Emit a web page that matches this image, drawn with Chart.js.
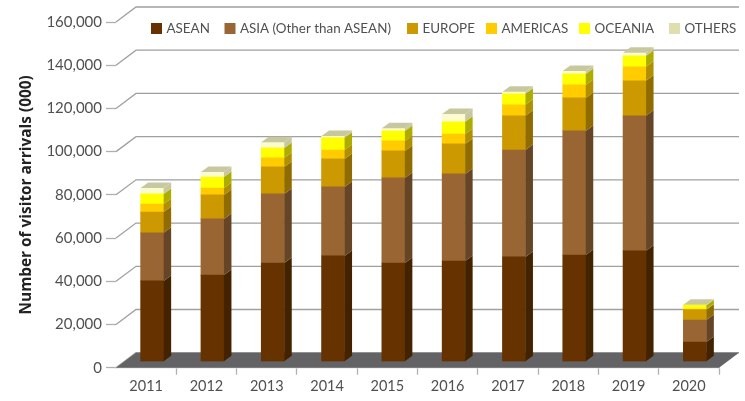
<!DOCTYPE html>
<html>
<head>
<meta charset="utf-8">
<style>
    html, body { margin: 0; padding: 0; background: #fff; }
    #chart { display: block; }
</style>
<script src="https://cdn.jsdelivr.net/npm/chart.js@4"></script>
</head>
<body>
<canvas id="chart" width="745" height="401"></canvas>
<script>
const years = ['2011', '2012', '2013', '2014', '2015', '2016', '2017', '2018', '2019', '2020'];
const asean = [37400, 40100, 45700, 48950, 45700, 46600, 48500, 49400, 51300, 9100];
const asia = [22300, 26000, 31950, 31950, 39350, 40300, 49500, 57400, 62500, 10200];
const europe = [9600, 11100, 12500, 12950, 12500, 13900, 15800, 15300, 16200, 4800];
const americas = [3700, 3200, 4150, 4150, 4650, 4600, 5100, 6000, 6500, 200];
const oceania = [4650, 5100, 4650, 5700, 4600, 5600, 5100, 5100, 5100, 1800];
const others = [2750, 2300, 2650, 800, 1300, 3700, 900, 1400, 1400, 300];

const FONT = 'Lato';
const TEXT = '#505050';
const BAR_SHIFT = { x: 6, y: -6 };     // bars stand in the middle of the floor
const BAR_DEPTH = { x: 7.5, y: -5.5 };
const WALL = { x: 20, y: -15 };        // front plane to back wall

const sideColors = ['#432200', '#664426', '#8f6b00', '#b08f00', '#adad00', '#c8c8a0'];
const legendSwatches = ['#663300', '#996633', '#cc9900', '#ffcc00', '#ffff00', '#dedeae'];
const legendX = [151, 224.5, 407, 486, 579, 669];

const box3d = {
    id: 'box3d',
    beforeDatasetsDraw(chart) {
        const { ctx, scales: { y }, chartArea: a } = chart;
        ctx.save();
        // back wall lines and the short diagonals down to the axis
        ctx.strokeStyle = '#a0a0a0';
        ctx.lineWidth = 1.3;
        y.ticks.forEach(t => {
            const py = y.getPixelForValue(t.value);
            ctx.beginPath();
            ctx.moveTo(a.left, py);
            ctx.lineTo(a.left + WALL.x, py + WALL.y);
            ctx.lineTo(a.right + WALL.x, py + WALL.y);
            ctx.stroke();
        });
        // floor
        const y0 = y.getPixelForValue(0);
        ctx.fillStyle = '#636365';
        ctx.beginPath();
        ctx.moveTo(a.left, y0);
        ctx.lineTo(a.right, y0);
        ctx.lineTo(a.right + WALL.x, y0 + WALL.y);
        ctx.lineTo(a.left + WALL.x, y0 + WALL.y);
        ctx.closePath();
        ctx.fill();
        ctx.restore();

        ctx.save();
        ctx.translate(BAR_SHIFT.x, BAR_SHIFT.y);
    },
    afterDatasetsDraw(chart) {
        const { ctx } = chart;
        const last = chart.data.datasets.length - 1;
        chart.data.datasets.forEach((ds, i) => {
            chart.getDatasetMeta(i).data.forEach(bar => {
                const r = bar.x + bar.width / 2;
                const l = bar.x - bar.width / 2;
                ctx.fillStyle = sideColors[i];
                ctx.beginPath();
                ctx.moveTo(r, bar.base);
                ctx.lineTo(r + BAR_DEPTH.x, bar.base + BAR_DEPTH.y);
                ctx.lineTo(r + BAR_DEPTH.x, bar.y + BAR_DEPTH.y);
                ctx.lineTo(r, bar.y);
                ctx.closePath();
                ctx.fill();
                if (i === last) {
                    ctx.fillStyle = '#c8c8a0';
                    ctx.beginPath();
                    ctx.moveTo(l, bar.y);
                    ctx.lineTo(r, bar.y);
                    ctx.lineTo(r + BAR_DEPTH.x, bar.y + BAR_DEPTH.y);
                    ctx.lineTo(l + BAR_DEPTH.x, bar.y + BAR_DEPTH.y);
                    ctx.closePath();
                    ctx.fill();
                }
            });
        });
        ctx.restore();
    },
    afterDraw(chart) {
        // legend sits inside the plot, with its own spacing
        const { ctx } = chart;
        ctx.save();
        ctx.font = '13.4px ' + FONT;
        ctx.textBaseline = 'middle';
        chart.data.datasets.forEach((ds, i) => {
            ctx.fillStyle = legendSwatches[i];
            ctx.fillRect(legendX[i], 23, 11, 11);
            ctx.fillStyle = TEXT;
            ctx.fillText(ds.label, legendX[i] + 15.5, 29);
        });
        ctx.restore();
    }
};

function makeSet(label, values, color) {
    return { label: label, data: values, backgroundColor: color, barThickness: 23 };
}

new Chart(document.getElementById('chart').getContext('2d'), {
    type: 'bar',
    data: {
        labels: years,
        datasets: [
            makeSet('ASEAN', asean, '#663300'),
            makeSet('ASIA (Other than ASEAN)', asia, '#996633'),
            makeSet('EUROPE', europe, '#cc9900'),
            makeSet('AMERICAS', americas, '#ffcc00'),
            makeSet('OCEANIA', oceania, '#ffff00'),
            makeSet('OTHERS', others, '#fbfbd2')
        ]
    },
    plugins: [box3d],
    options: {
        responsive: false,
        animation: false,
        layout: { padding: { top: 22, right: 26, bottom: 0, left: 0 } },
        plugins: {
            legend: { display: false },
            tooltip: { enabled: false }
        },
        scales: {
            x: {
                stacked: true,
                afterFit(scale) { scale.height = 33.3; },
                border: { display: true, color: '#c8c8c8', width: 1.3 },
                grid: {
                    drawOnChartArea: false,
                    tickLength: 7,
                    tickColor: c => c.index === 0 ? 'transparent' : '#b0b0b0',
                    tickWidth: 1.3
                },
                ticks: { color: TEXT, font: { family: FONT, size: 14.5 }, padding: 3, maxRotation: 0 }
            },
            y: {
                stacked: true,
                min: 0,
                max: 160000,
                afterFit(scale) { scale.width = 116; },
                border: { display: false },
                grid: { drawOnChartArea: false, tickLength: 10, tickColor: '#b0b0b0', tickWidth: 1.3 },
                ticks: {
                    stepSize: 20000,
                    color: TEXT,
                    font: { family: FONT, size: 15 },
                    padding: 4,
                    callback: v => v.toLocaleString('en-US')
                },
                title: {
                    display: true,
                    text: 'Number of visitor arrivals (000)',
                    color: '#222',
                    font: { family: 'Open Sans', size: 15.4, weight: 'bold' },
                    padding: { top: 17, bottom: 0 }
                }
            }
        }
    }
});
</script>
</body>
</html>
